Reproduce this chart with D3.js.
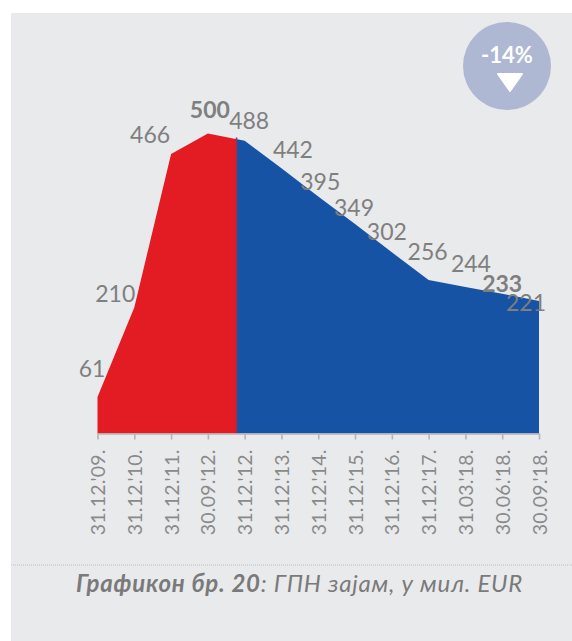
<!DOCTYPE html>
<html><head><meta charset="utf-8">
<script src="https://cdn.jsdelivr.net/npm/d3@7/dist/d3.min.js"></script>
<style>html,body{margin:0;padding:0;background:#fff}svg{display:block}</style>
</head><body><div id="c"></div>
<script>
const categories = ["31.12.'09.","31.12.'10.","31.12.'11.","30.09.'12.","31.12.'12.","31.12.'13.","31.12.'14.","31.12.'15.","31.12.'16.","31.12.'17.","31.03.'18.","30.06.'18.","30.09.'18."];
const values = [61,210,466,500,488,442,395,349,302,256,244,233,221];
const boldLabels = ["30.09.'12.","30.06.'18."];
const splitIndex = 3.78;
const labelOffsetsX = [-5.5,-19,-21,2,4.5,11.5,2,-1,-5,-1,5.5,0,-13];
const labelOffsetsY = [-20,-5.5,-11,-15.5,-11.7,-10,-6.5,-8,-12,-20,-15,-2,10];
const W=572,H=641;
const svg=d3.select("#c").append("svg").attr("width",W).attr("height",H);
const font="Lato,'Noto Sans',sans-serif";
svg.append("rect").attr("x",11).attr("y",13).attr("width",W-11).attr("height",H-13).attr("fill","#e9eaec");
const x=d3.scaleLinear().domain([0,categories.length-1]).range([97.5,539]);
const y=d3.scaleLinear().domain([0,500]).range([433.5,133.5]);
const area=d3.area().x((d,i)=>x(i)).y0(y(0)).y1(d=>y(d));
const defs=svg.append("defs");
defs.append("clipPath").attr("id","cr").append("rect").attr("x",0).attr("y",0).attr("width",x(splitIndex)).attr("height",H);
defs.append("clipPath").attr("id","cb").append("rect").attr("x",x(splitIndex)).attr("y",0).attr("width",W).attr("height",H);
svg.append("path").attr("d",area(values)).attr("fill","#e31b23").attr("clip-path","url(#cr)");
svg.append("path").attr("d",area(values)).attr("fill","#1753a5").attr("clip-path","url(#cb)");
svg.append("line").attr("x1",x(splitIndex)).attr("x2",x(splitIndex)).attr("y1",y(0)).attr("y2",y(493.5)).attr("stroke","#8b3563").attr("stroke-width",1.6);
const axis=d3.axisBottom(x).tickValues(d3.range(categories.length)).tickFormat(i=>categories[i]).tickSize(6).tickSizeOuter(0);
const ax=svg.append("g").attr("transform",`translate(0,${y(0)})`).call(axis);
ax.selectAll("path,line").attr("stroke","#b4b5b7").attr("stroke-width",1.6);
ax.selectAll("text").attr("transform","rotate(-90)").attr("x",-16).attr("y",0).attr("dy","0.36em").attr("text-anchor","end")
  .attr("font-family",font).attr("font-size",19.5).attr("letter-spacing",0.2).attr("fill","#8a8a8a");
svg.append("g").selectAll("text").data(values).join("text")
  .attr("x",(d,i)=>x(i)+labelOffsetsX[i]).attr("y",(d,i)=>y(d)+labelOffsetsY[i])
  .attr("text-anchor","middle").attr("font-family",font).attr("font-size",23)
  .attr("font-weight",(d,i)=>boldLabels.includes(categories[i])?700:400)
  .attr("fill","#7f7f7f").text(d=>d);
svg.append("line").attr("x1",11).attr("x2",W).attr("y1",565).attr("y2",565).attr("stroke","#bdbec0").attr("stroke-dasharray","1 1");
const cap=svg.append("text").attr("x",299.5).attr("y",592).attr("text-anchor","middle").attr("font-family",font).attr("font-size",24).attr("letter-spacing",0.75).attr("font-style","italic").attr("fill","#7a7a7a");
cap.append("tspan").attr("font-weight",700).text("Графикон бр. 20");
cap.append("tspan").text(": ГПН зајам, у мил. EUR");
svg.append("circle").attr("cx",507).attr("cy",66).attr("r",44).attr("fill","#afb8d2");
svg.append("text").attr("x",507).attr("y",63).attr("text-anchor","middle").attr("font-family",font).attr("font-size",22).attr("font-weight",700).attr("fill","#fff").text("-14%");
svg.append("path").attr("d",d3.line()([[498,74],[522,74],[510,91]])+"Z").attr("fill","#fff").attr("stroke","#fff").attr("stroke-width",2).attr("stroke-linejoin","round");
</script></body></html>
